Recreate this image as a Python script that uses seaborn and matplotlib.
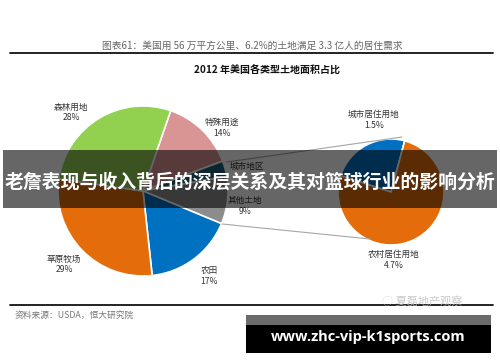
import matplotlib
matplotlib.use("Agg")
import matplotlib.pyplot as plt
import seaborn as sns
from matplotlib.patches import Rectangle

# Main pie (clockwise from the pink slice)
land_types = ["特殊用途", "城市地区", "其他土地", "农田", "草原牧场", "森林用地"]
land_share = [14, 3, 9, 17, 29, 28]
land_labels = ["14%", "3%", "9%", "17%", "29%", "28%"]
land_colors = ["#D99594", "#1F5F7A", "#8C8C8C", "#0070C0", "#E46C0A", "#92D050"]

# Breakdown of the urban slice
urban_types = ["城市居住用地", "农村居住用地"]
urban_share = [1.5, 4.7]
urban_labels = ["1.5%", "4.7%"]
urban_colors = ["#0070C0", "#E46C0A"]

CAPTION = "图表61：美国用 56 万平方公里、6.2%的土地满足 3.3 亿人的居住需求"
TITLE = "2012 年美国各类型土地面积占比"
SOURCE = "资料来源：USDA，恒大研究院"
BANNER = "老詹表现与收入背后的深层关系及其对篮球行业的影响分析"
SITE = "www.zhc-vip-k1sports.com"
WATERMARK = "夏磊地产观察"

W, H = 500, 362
LABEL_COLOR = "#333333"


def Y(y):
    # pixel row (top=0) -> data y
    return H - y


def main():
    sns.set_theme(style="white")
    plt.rcParams["font.family"] = ["Noto Sans CJK SC", "DejaVu Sans"]

    fig = plt.figure(figsize=(W / 100, H / 100), dpi=100)
    fig.patch.set_facecolor("white")
    ax = fig.add_axes([0, 0, 1, 1])

    explode = [0.04 if t == "城市地区" else 0 for t in land_types]
    ax.pie(land_share, colors=land_colors, startangle=71, counterclock=False,
           center=(143, Y(191)), radius=85, explode=explode, frame=True,
           wedgeprops=dict(edgecolor="white", linewidth=1.2))
    ax.pie(urban_share, colors=urban_colors, startangle=75, counterclock=True,
           center=(391, Y(192)), radius=53, frame=True,
           wedgeprops=dict(edgecolor="white", linewidth=1.2))

    # connector lines
    ax.plot([227, 402], [Y(162), Y(137)], color="#A6A6A6", lw=0.8)
    ax.plot([222, 370], [Y(224), Y(239)], color="#A6A6A6", lw=0.8)

    # slice labels (the urban percentage sits under the banner in the original)
    label_pos = {"特殊用途": (222, 122), "城市地区": (247, 166), "其他土地": (245, 200),
                 "农田": (209, 270), "草原牧场": (64, 259), "森林用地": (71, 107)}
    for name, pct in zip(land_types, land_labels):
        x, y = label_pos[name]
        ax.text(x, Y(y), name, ha="center", va="center", fontsize=6.2, color=LABEL_COLOR)
        if name != "城市地区":
            ax.text(x, Y(y + 11), pct, ha="center", va="center", fontsize=6.2,
                    color=LABEL_COLOR)
    urban_pos = {"城市居住用地": (374, 114), "农村居住用地": (394, 254)}
    for name, pct in zip(urban_types, urban_labels):
        x, y = urban_pos[name]
        ax.text(x, Y(y), name, ha="center", va="center", fontsize=6.2, color=LABEL_COLOR)
        ax.text(x, Y(y + 11), pct, ha="center", va="center", fontsize=6.2, color=LABEL_COLOR)

    # caption, rules, title, source
    ax.text(252, Y(46), CAPTION, ha="center", va="center", fontsize=7, color="#666666")
    ax.plot([10, 493], [Y(52.5), Y(52.5)], color="#111111", lw=1.3)
    ax.text(267, Y(70), TITLE, ha="center", va="center", fontsize=7.2,
            fontweight="bold", color="#111111")
    ax.plot([10, 493], [Y(305), Y(305)], color="#111111", lw=1.3)
    ax.text(15, Y(315), SOURCE, ha="left", va="center", fontsize=6.3, color="#777777")
    ax.text(422, Y(301), "◌ " + WATERMARK, ha="center", va="center", fontsize=8,
            color="#BBBBBB", alpha=0.8)

    # banner overlay
    ax.add_patch(Rectangle((3, Y(208)), 494, 58, facecolor="black", alpha=0.6,
                           edgecolor="none", zorder=10))
    ax.text(250, Y(182), BANNER, ha="center", va="center", fontsize=13.6,
            fontweight="bold", color="white", zorder=11)

    # site box
    ax.add_patch(Rectangle((246, Y(353)), 245, 38, facecolor="black",
                           edgecolor="none", zorder=10))
    ax.add_patch(Rectangle((246, Y(325)), 245, 10, facecolor="#6B6B6B",
                           edgecolor="none", zorder=11))
    ax.text(368, Y(337), SITE, ha="center", va="center", fontsize=10.5,
            fontweight="bold", color="white", family=["Open Sans", "DejaVu Sans"], zorder=12)

    ax.set_xlim(0, W)
    ax.set_ylim(0, H)
    ax.set_aspect("auto")
    ax.axis("off")

    fig.savefig("out.png", dpi=100, facecolor="white")


if __name__ == "__main__":
    main()
